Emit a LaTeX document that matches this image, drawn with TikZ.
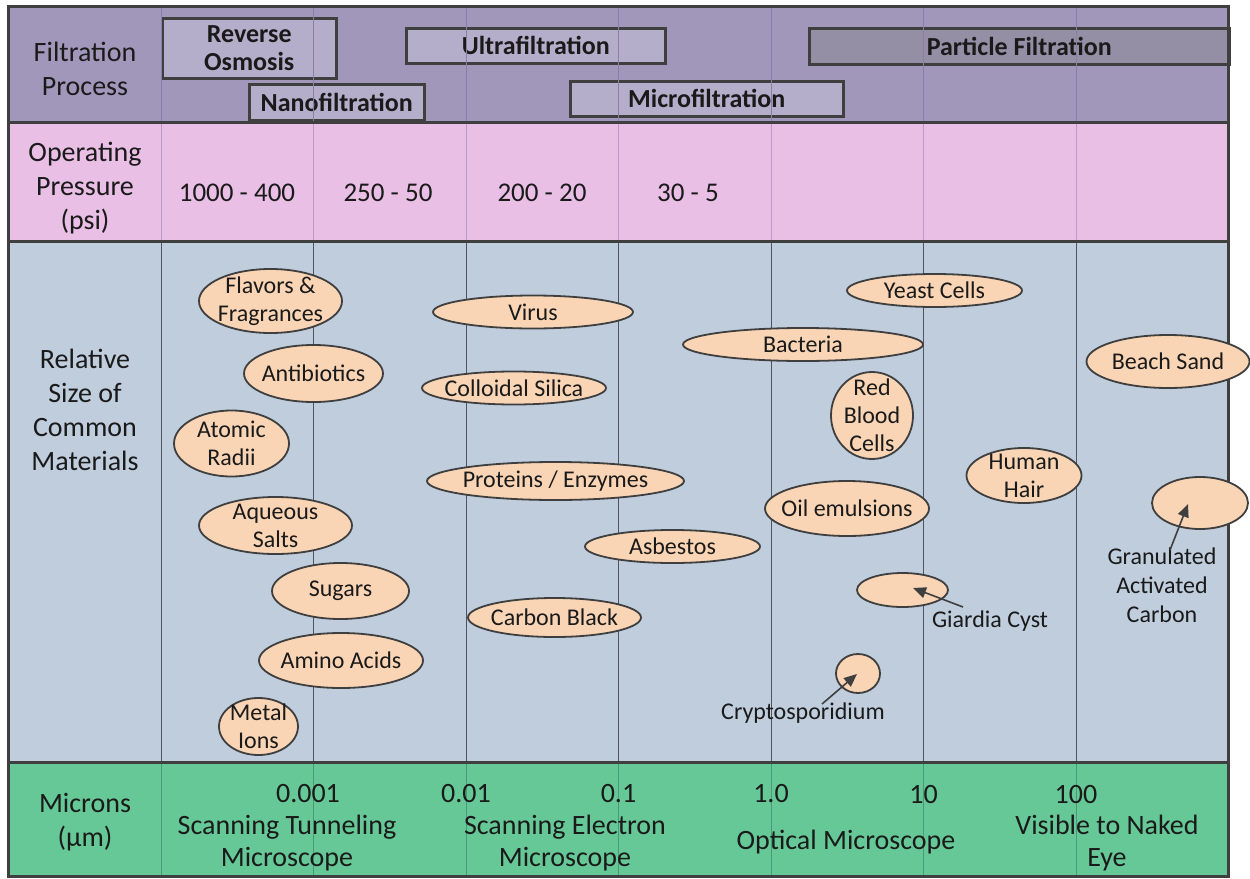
\documentclass[tikz,border=0pt]{standalone}
\usepackage{fontspec}
\setmainfont{Carlito}
\usetikzlibrary{shapes.geometric,arrows.meta}
\definecolor{bandpurple}{HTML}{A097BB}
\definecolor{boxlight}{HTML}{B5AECB}
\definecolor{boxdark}{HTML}{958FA6}
\definecolor{bandpink}{HTML}{E9BFE5}
\definecolor{bandblue}{HTML}{BFCDDD}
\definecolor{bandgreen}{HTML}{66C897}
\definecolor{blobfill}{HTML}{F9D5B5}
\definecolor{edge}{HTML}{3F3F3F}
\definecolor{ink}{HTML}{1A1A1A}
\definecolor{linepurple}{HTML}{8A80A6}
\definecolor{linepink}{HTML}{B99BC4}
\definecolor{lineblue}{HTML}{4F5462}
\definecolor{linegreen}{HTML}{4A9A73}
\begin{document}
\begin{tikzpicture}[x=1pt,y=-1pt,
  fproc/.style={draw=edge, line width=2.5pt, fill=boxlight, inner sep=0pt, align=center,
    font=\fontsize{26}{28}\selectfont\bfseries, text=ink, anchor=north west},
  blob/.style={ellipse, draw=edge, line width=1.8pt, fill=blobfill, inner sep=0pt},
  blobtext/.style={font=\fontsize{24}{28}\selectfont, text=ink, align=center, inner sep=0pt},
  rowlabel/.style={font=\fontsize{28}{34}\selectfont, text=ink, align=center, inner sep=0pt},
  psitext/.style={font=\fontsize{27}{32}\selectfont, text=ink, inner sep=0pt},
  scaletext/.style={font=\fontsize{28}{32}\selectfont, text=ink, align=center, inner sep=0pt},
  sepline/.style={draw=edge, line width=3pt},
  pointer/.style={draw=edge, line width=1.6pt, -{Triangle[length=13pt,width=11pt]}}
]
\useasboundingbox (0,0) rectangle (1250,878);
% bands
\fill[bandpurple] (8,6) rectangle (1228,122.5);
\fill[bandpink] (8,122.5) rectangle (1228,241);
\fill[bandblue] (8,241) rectangle (1228,762);
\fill[bandgreen] (8,762) rectangle (1228,876);
% filtration boxes
\node[fproc, minimum width=174pt, minimum height=60pt] (ro) at (161,17) {Reverse\\Osmosis};
\node[fproc, minimum width=175pt, minimum height=36pt] (nano) at (248,83) {Nanofiltration};
\node[fproc, minimum width=259pt, minimum height=35pt] (ultra) at (405,27) {Ultrafiltration};
\node[fproc, minimum width=273pt, minimum height=35pt] (micro) at (569,80) {Microfiltration};
\node[fproc, fill=boxdark, minimum width=420pt, minimum height=36pt] (part) at (808,27) {Particle Filtration};
% column lines
\foreach \cx in {161,313.5,466,618.5,771,923.5,1076}{
  \draw[linepurple, line width=1pt] (\cx,6) -- (\cx,122.5);
  \draw[linepink, line width=1pt] (\cx,122.5) -- (\cx,241);
  \draw[lineblue, line width=1pt] (\cx,241) -- (\cx,762);
  \draw[linegreen, line width=1pt] (\cx,762) -- (\cx,876);
}
% separators and frame
\draw[sepline] (8,122.5) -- (1228,122.5);
\draw[sepline] (8,241) -- (1228,241);
\draw[sepline] (8,762) -- (1228,762);
\draw[sepline] (8,6) rectangle (1228,876);
% row labels
\node[rowlabel] (lblfilt) at (85,69) {Filtration\\Process};
\node[rowlabel] (lblpress) at (85,188) {Operating\\Pressure\\(psi)};
\node[rowlabel] (lblsize) at (85,410) {Relative\\Size of\\Common\\Materials};
\node[rowlabel] (lblmic) at (85,822) {Microns\\(μm)};
% pressures
\node[psitext] (p1) at (237,193) {1000 - 400};
\node[psitext] (p2) at (388,193) {250 - 50};
\node[psitext] (p3) at (542,193) {200 - 20};
\node[psitext] (p4) at (688,193) {30 - 5};
% ellipses
\node[blob, minimum width=143pt, minimum height=64pt] (flav) at (270.5,301) {};
\node[blob, minimum width=139pt, minimum height=57pt] (anti) at (313.5,373.5) {};
\node[blob, minimum width=115pt, minimum height=66pt] (atom) at (231.5,443.5) {};
\node[blob, minimum width=153pt, minimum height=57pt] (aque) at (275.5,525.5) {};
\node[blob, minimum width=137pt, minimum height=56pt] (sugar) at (340.5,591) {};
\node[blob, minimum width=164pt, minimum height=55pt] (amino) at (341,660.5) {};
\node[blob, minimum width=79pt, minimum height=57pt] (metal) at (258.5,726.5) {};
\node[blob, minimum width=200pt, minimum height=33pt] (virus) at (533,312) {};
\node[blob, minimum width=184pt, minimum height=33pt] (coll) at (514,388) {};
\node[blob, minimum width=257pt, minimum height=38pt] (prot) at (555.5,481) {};
\node[blob, minimum width=175pt, minimum height=33pt] (asb) at (672.5,546.5) {};
\node[blob, minimum width=173pt, minimum height=39pt] (carb) at (554.5,617.5) {};
\node[blob, minimum width=175pt, minimum height=33pt] (yeast) at (934.5,290.5) {};
\node[blob, minimum width=240pt, minimum height=33pt] (bact) at (803,344.5) {};
\node[blob, minimum width=82pt, minimum height=87pt] (rbc) at (872,415.5) {};
\node[blob, minimum width=164pt, minimum height=55pt] (oil) at (847,508.5) {};
\node[blob, minimum width=115pt, minimum height=55pt] (hair) at (1024,475.5) {};
\node[blob, minimum width=163pt, minimum height=53pt] (sand) at (1168,361.5) {};
\node[blob, minimum width=96pt, minimum height=52pt] (gac) at (1200,503) {};
\node[blob, minimum width=91pt, minimum height=34pt] (gia) at (902.5,590) {};
\node[blob, minimum width=44pt, minimum height=39pt] (crypt) at (858,673.5) {};
% ellipse texts
\node[blobtext] (flavT) at (flav.center) {Flavors \&\\Fragrances};
\node[blobtext] (antiT) at (anti.center) {Antibiotics};
\node[blobtext] (atomT) at (atom.center) {Atomic\\Radii};
\node[blobtext] (aqueT) at (aque.center) {Aqueous\\Salts};
\node[blobtext] (sugarT) at (sugar.center) {Sugars};
\node[blobtext] (aminoT) at (amino.center) {Amino Acids};
\node[blobtext] (metalT) at (metal.center) {Metal\\Ions};
\node[blobtext] (virusT) at (virus.center) {Virus};
\node[blobtext] (collT) at (coll.center) {Colloidal Silica};
\node[blobtext] (protT) at (prot.center) {Proteins / Enzymes};
\node[blobtext] (asbT) at (asb.center) {Asbestos};
\node[blobtext] (carbT) at (carb.center) {Carbon Black};
\node[blobtext] (yeastT) at (yeast.center) {Yeast Cells};
\node[blobtext] (bactT) at (bact.center) {Bacteria};
\node[blobtext] (rbcT) at (rbc.center) {Red\\Blood\\Cells};
\node[blobtext] (oilT) at (oil.center) {Oil emulsions};
\node[blobtext] (hairT) at (hair.center) {Human\\Hair};
\node[blobtext] (sandT) at (sand.center) {Beach Sand};
% callouts
\node[blobtext] (giaT) at (990,621) {Giardia Cyst};
\node[blobtext] (cryptT) at (803,713) {Cryptosporidium};
\node[blobtext, font=\fontsize{24}{29}\selectfont] (gacT) at (1162,585) {Granulated\\Activated\\Carbon};
\coordinate (giaTail) at (963,607);
\coordinate (giaTip) at (913,588);
\coordinate (cryptTail) at (822,704);
\coordinate (cryptTip) at (857,674);
\coordinate (gacTail) at (1170,550);
\coordinate (gacTip) at (1188,504);
\draw[pointer] (giaTail) -- (giaTip);
\draw[pointer] (cryptTail) -- (cryptTip);
\draw[pointer] (gacTail) -- (gacTip);
% micron scale
\node[scaletext] (m1) at (308,794) {0.001};
\node[scaletext] (m2) at (466,794) {0.01};
\node[scaletext] (m3) at (618.5,794) {0.1};
\node[scaletext] (m4) at (771,794) {1.0};
\node[scaletext] (m5) at (923.5,794) {10};
\node[scaletext] (m6) at (1076,794) {100};
\node[scaletext] (stm) at (287,843) {Scanning Tunneling\\Microscope};
\node[scaletext] (sem) at (565,843) {Scanning Electron\\Microscope};
\node[scaletext] (opt) at (846,842) {Optical Microscope};
\node[scaletext] (eye) at (1107,843) {Visible to Naked\\Eye};
\end{tikzpicture}
\end{document}
